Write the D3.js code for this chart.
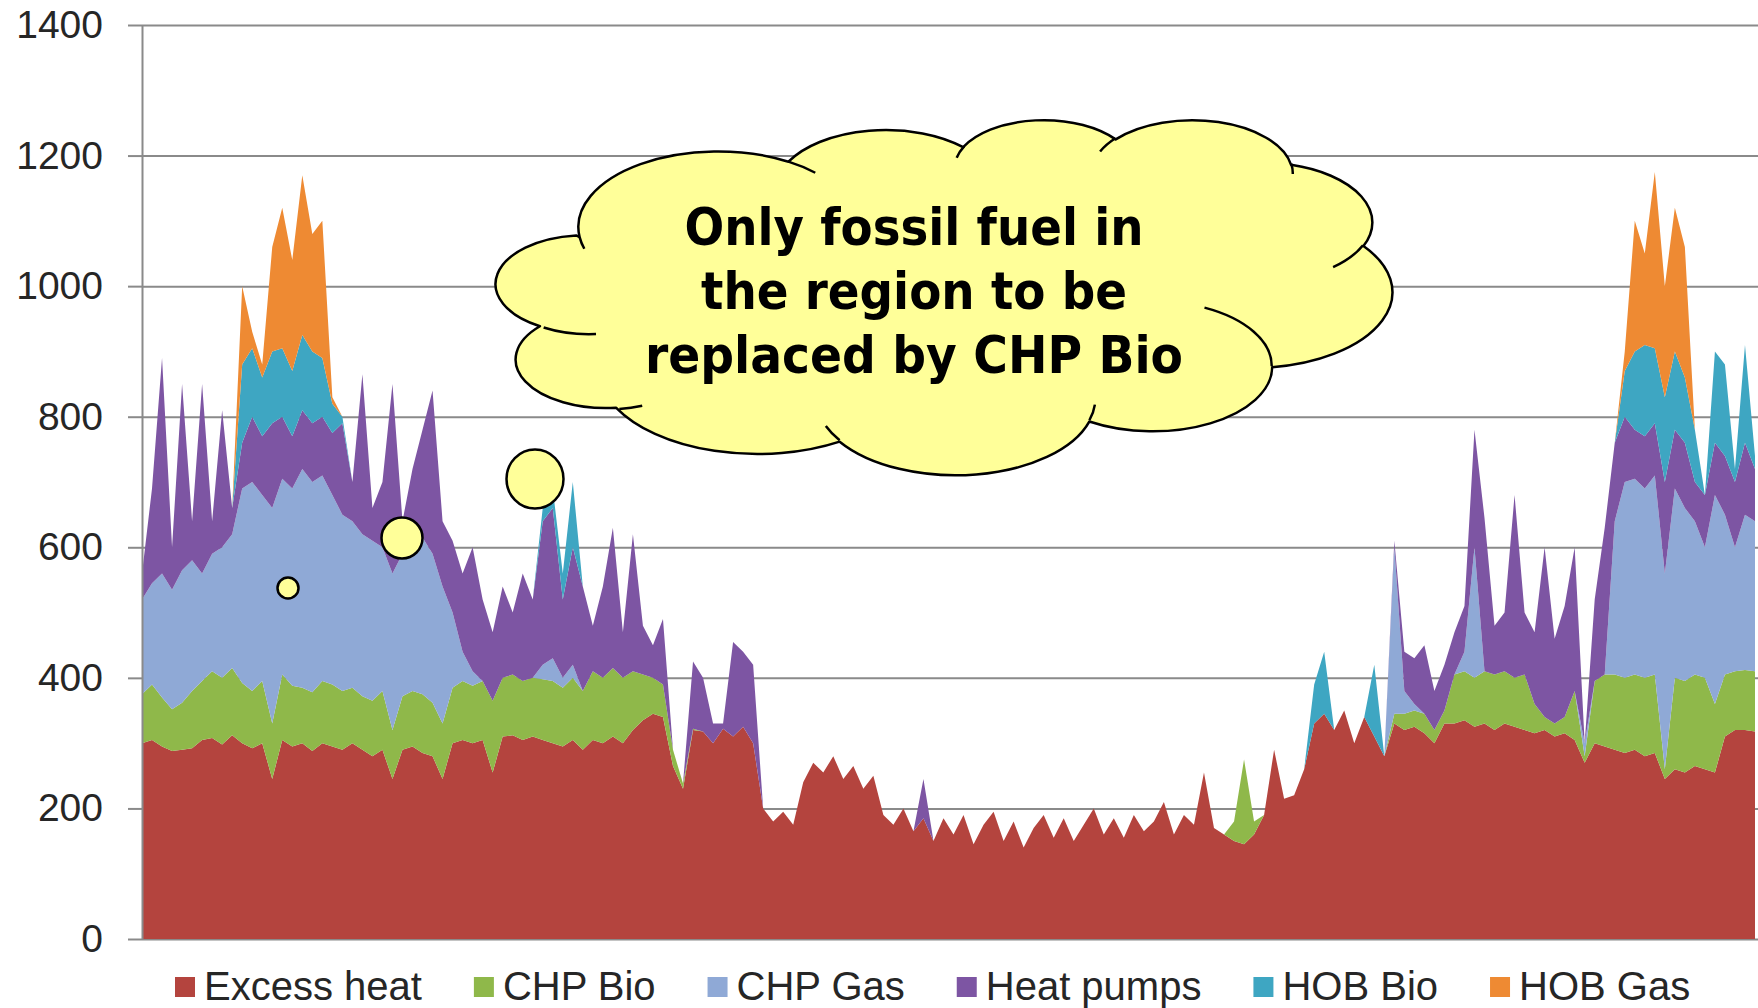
<!DOCTYPE html>
<html>
<head>
<meta charset="utf-8">
<script src="https://cdn.jsdelivr.net/npm/d3@7"></script>
<style>
  html, body { margin: 0; padding: 0; background: #fff; }
  svg { display: block; }
</style>
</head>
<body>
<div id="chart"></div>
<script>
// series, bottom to top
const seriesNames = ["Excess heat", "CHP Bio", "CHP Gas", "Heat pumps", "HOB Bio", "HOB Gas"];
const seriesColors = ["#b4443e", "#8fb84a", "#8fa9d6", "#7d55a3", "#3ea6c2", "#ee8a33"];
const yTicks = [0, 200, 400, 600, 800, 1000, 1200, 1400];

// heat production over the year, one sample every ~54 hours
const excessHeat = [
  300, 305, 295, 288, 290, 292, 305, 308, 298, 312,
  300, 292, 300, 245, 305, 295, 300, 288, 300, 295,
  290, 300, 290, 280, 290, 245, 290, 295, 285, 280,
  245, 300, 305, 300, 305, 255, 310, 312, 305, 310,
  305, 300, 295, 305, 290, 305, 300, 310, 300, 320,
  335, 345, 340, 265, 230, 320, 318, 300, 322, 310,
  325, 300, 200, 180, 195, 175, 240, 270, 255, 280,
  245, 265, 230, 250, 190, 175, 200, 165, 185, 150,
  185, 160, 190, 145, 175, 195, 150, 180, 140, 170,
  190, 155, 185, 150, 175, 200, 160, 185, 155, 190,
  165, 180, 210, 160, 190, 175, 255, 170, 160, 150,
  145, 160, 190, 290, 215, 220, 260, 330, 345, 320,
  350, 300, 340, 310, 280, 330, 320, 325, 315, 300,
  330, 330, 335, 325, 330, 320, 330, 325, 320, 315,
  320, 310, 315, 305, 270, 300, 295, 290, 285, 290,
  280, 285, 245, 260, 255, 265, 260, 255, 310, 320,
  320, 318
];
const chpBio = [
  75, 85, 75, 64, 72, 88, 90, 102, 102, 103,
  92, 88, 95, 85, 100, 93, 85, 90, 95, 95,
  90, 85, 82, 85, 90, 75, 82, 85, 90, 82,
  85, 85, 90, 88, 90, 110, 90, 93, 90, 90,
  93, 95, 90, 95, 90, 105, 100, 105, 100, 90,
  70, 55, 50, 25, 8, 2, 0, 0, 0, 0,
  0, 0, 0, 0, 0, 0, 0, 0, 0, 0,
  0, 0, 0, 0, 0, 0, 0, 0, 0, 0,
  0, 0, 0, 0, 0, 0, 0, 0, 0, 0,
  0, 0, 0, 0, 0, 0, 0, 0, 0, 0,
  0, 0, 0, 0, 0, 0, 0, 0, 0, 30,
  130, 20, 0, 0, 0, 0, 0, 0, 0, 0,
  0, 0, 0, 0, 0, 15, 25, 25, 30, 20,
  20, 75, 75, 75, 80, 85, 80, 75, 85, 45,
  20, 20, 25, 75, 10, 95, 110, 115, 115, 115,
  120, 120, 15, 140, 140, 140, 140, 105, 95, 90,
  92, 92
];
const chpGas = [
  145, 155, 190, 183, 203, 200, 165, 180, 200, 205,
  298, 320, 285, 330, 300, 302, 335, 322, 315, 290,
  270, 255, 248, 245, 220, 240, 218, 220, 240, 228,
  210, 115, 45, 22, 0, 0, 0, 0, 0, 0,
  22, 35, 15, 20, 0, 0, 0, 0, 0, 0,
  0, 0, 0, 0, 0, 0, 0, 0, 0, 0,
  0, 0, 0, 0, 0, 0, 0, 0, 0, 0,
  0, 0, 0, 0, 0, 0, 0, 0, 0, 0,
  0, 0, 0, 0, 0, 0, 0, 0, 0, 0,
  0, 0, 0, 0, 0, 0, 0, 0, 0, 0,
  0, 0, 0, 0, 0, 0, 0, 0, 0, 0,
  0, 0, 0, 0, 0, 0, 0, 0, 0, 0,
  0, 0, 0, 0, 0, 255, 35, 10, 0, 0,
  0, 0, 30, 200, 0, 0, 0, 0, 0, 0,
  0, 0, 0, 0, 20, 0, 0, 235, 300, 300,
  290, 305, 300, 290, 265, 235, 200, 320, 245, 190,
  238, 230
];
const heatPumps = [
  40, 145, 330, 65, 285, 60, 290, 50, 210, 40,
  70, 100, 90, 130, 95, 80, 90, 90, 90, 95,
  140, 60, 245, 50, 100, 290, 50, 120, 165, 250,
  100, 110, 120, 190, 125, 105, 140, 95, 165, 120,
  220, 230, 120, 180, 160, 70, 140, 215, 70, 210,
  75, 50, 100, 0, 0, 103, 82, 30, 8, 145,
  115, 120, 0, 0, 0, 0, 0, 0, 0, 0,
  0, 0, 0, 0, 0, 0, 0, 0, 60, 0,
  0, 0, 0, 0, 0, 0, 0, 0, 0, 0,
  0, 0, 0, 0, 0, 0, 0, 0, 0, 0,
  0, 0, 0, 0, 0, 0, 0, 0, 0, 0,
  0, 0, 0, 0, 0, 0, 0, 0, 0, 0,
  0, 0, 0, 0, 0, 10, 60, 70, 105, 60,
  70, 65, 70, 180, 235, 75, 90, 280, 95, 110,
  260, 130, 170, 220, 0, 125, 225, 120, 100, 75,
  80, 80, 140, 90, 100, 60, 80, 80, 90, 100,
  110, 80
];
const hobBio = [
  0, 0, 0, 0, 0, 0, 0, 0, 0, 0,
  120, 105, 90, 110, 105, 100, 115, 110, 90, 45,
  10, 0, 0, 0, 0, 0, 0, 0, 0, 0,
  0, 0, 0, 0, 0, 0, 0, 0, 0, 0,
  20, 30, 40, 100, 0, 0, 0, 0, 0, 0,
  0, 0, 0, 0, 0, 0, 0, 0, 0, 0,
  0, 0, 0, 0, 0, 0, 0, 0, 0, 0,
  0, 0, 0, 0, 0, 0, 0, 0, 0, 0,
  0, 0, 0, 0, 0, 0, 0, 0, 0, 0,
  0, 0, 0, 0, 0, 0, 0, 0, 0, 0,
  0, 0, 0, 0, 0, 0, 0, 0, 0, 0,
  0, 0, 0, 0, 0, 0, 0, 60, 95, 0,
  0, 0, 0, 110, 0, 0, 0, 0, 0, 0,
  0, 0, 0, 0, 0, 0, 0, 0, 0, 0,
  0, 0, 0, 0, 0, 0, 0, 0, 70, 120,
  140, 115, 130, 120, 100, 80, 0, 140, 140, 20,
  150, 20
];
const hobGas = [
  0, 0, 0, 0, 0, 0, 0, 0, 0, 0,
  120, 25, 20, 160, 215, 170, 245, 180, 210, 10,
  0, 0, 0, 0, 0, 0, 0, 0, 0, 0,
  0, 0, 0, 0, 0, 0, 0, 0, 0, 0,
  0, 0, 0, 0, 0, 0, 0, 0, 0, 0,
  0, 0, 0, 0, 0, 0, 0, 0, 0, 0,
  0, 0, 0, 0, 0, 0, 0, 0, 0, 0,
  0, 0, 0, 0, 0, 0, 0, 0, 0, 0,
  0, 0, 0, 0, 0, 0, 0, 0, 0, 0,
  0, 0, 0, 0, 0, 0, 0, 0, 0, 0,
  0, 0, 0, 0, 0, 0, 0, 0, 0, 0,
  0, 0, 0, 0, 0, 0, 0, 0, 0, 0,
  0, 0, 0, 0, 0, 0, 0, 0, 0, 0,
  0, 0, 0, 0, 0, 0, 0, 0, 0, 0,
  0, 0, 0, 0, 0, 0, 0, 0, 30, 200,
  140, 270, 170, 220, 200, 0, 0, 0, 0, 0,
  0, 0
];

const calloutLines = ["Only fossil fuel in", "the region to be", "replaced by CHP Bio"];

const W = 1758, H = 1008;
const plot = { left: 142, right: 1755, top: 25, bottom: 939 };

const svg = d3.select('#chart').append('svg')
    .attr('width', W)
    .attr('height', H)
    .attr('viewBox', `0 0 ${W} ${H}`);

const seriesValues = [excessHeat, chpBio, chpGas, heatPumps, hobBio, hobGas];
const rows = excessHeat.map((_, i) => {
    const r = {};
    seriesNames.forEach((name, k) => { r[name] = seriesValues[k][i]; });
    return r;
});

const x = d3.scaleLinear().domain([0, rows.length - 1]).range([plot.left, plot.right]);
const y = d3.scaleLinear().domain([0, 1400]).range([plot.bottom, plot.top]);
const color = d3.scaleOrdinal().domain(seriesNames).range(seriesColors);

// gridlines behind the series
svg.append('g')
    .attr('transform', `translate(${plot.left},0)`)
    .call(d3.axisLeft(y).tickValues(yTicks).tickSize(-(W - plot.left)).tickFormat(''))
    .call(g => g.select('.domain').remove())
    .call(g => g.selectAll('line').attr('stroke', '#8a8a8a').attr('stroke-width', 2));

const stacked = d3.stack().keys(seriesNames)(rows);

const area = d3.area()
    .x((d, i) => x(i))
    .y0(d => y(d[0]))
    .y1(d => y(d[1]));

svg.append('g')
    .selectAll('path')
    .data(stacked)
    .join('path')
    .attr('fill', d => color(d.key))
    .attr('d', area);

// y axis with labels
const yAxis = svg.append('g')
    .attr('transform', `translate(${plot.left},0)`)
    .call(d3.axisLeft(y).tickValues(yTicks).tickFormat(d3.format('d'))
        .tickSize(14).tickSizeOuter(0).tickPadding(25));
yAxis.select('.domain').attr('stroke', '#8a8a8a').attr('stroke-width', 2);
yAxis.selectAll('line').attr('stroke', '#8a8a8a').attr('stroke-width', 2);
yAxis.selectAll('text')
    .attr('fill', '#262626')
    .style('font-family', '"Liberation Sans", Arial, sans-serif')
    .style('font-size', '39px');

// legend along the bottom
const legend = svg.append('g').attr('transform', 'translate(0,1000)');
let lx = 175;
seriesNames.forEach(name => {
    const item = legend.append('g');
    item.append('rect')
        .attr('x', lx).attr('y', -23)
        .attr('width', 20).attr('height', 20)
        .attr('fill', color(name));
    const t = item.append('text')
        .attr('x', lx + 29).attr('y', 0)
        .attr('fill', '#262626')
        .style('font-family', '"Liberation Sans", Arial, sans-serif')
        .style('font-size', '40px')
        .text(name);
    lx += 29 + t.node().getComputedTextLength() + 52;
});

// cloud callout (PowerPoint cloud geometry, 43200 units square)
const cloudBox = { x: 499, y: 119, w: 893, h: 355 };
const cloudArcs = [
    [6753, 9190, -11429249, 7426832],
    [5333, 7267, -8646143, 5396714],
    [4365, 5945, -8748475, 5983381],
    [4857, 6595, -7859164, 7034504],
    [5333, 7273, -4722533, 6541615],
    [6775, 9220, -2776035, 7816140],
    [5785, 7867, 37501, 6842000],
    [6752, 9215, 1347096, 6910353],
    [7720, 10543, 3974558, 4682618],
    [4360, 5918, -16496525, 8804134],
    [4345, 5945, -14809710, 9151131]
];
const cloudHooks = [
    [4693, 26177, 4345, 5945, 5204520, 1585770],
    [6928, 34899, 4360, 5918, 4416628, 686848],
    [16478, 39090, 6752, 9215, 8257449, 844866],
    [28827, 34751, 6752, 9215, 387196, 959901],
    [34129, 22954, 5785, 7867, -4217541, 4255042],
    [41798, 15354, 5333, 7273, 1819082, 1665090],
    [38324, 5426, 4857, 6595, -824660, 891534],
    [29078, 3952, 4857, 6595, -8950887, 1091722],
    [22141, 4720, 4365, 5945, -9809656, 1061181],
    [14000, 5192, 6753, 9190, -4002417, 739161],
    [4127, 15789, 6753, 9190, 9459261, 711490]
];

function cloudPen() {
    const sx = cloudBox.w / 43200, sy = cloudBox.h / 43200;
    const px = v => cloudBox.x + v * sx, py = v => cloudBox.y + v * sy;
    let d = '', cx = 0, cy = 0;
    return {
        moveTo(a, b) { cx = a; cy = b; d += `M${px(a)},${py(b)}`; },
        arcTo(wR, hR, st, sw) {
            const a1 = st / 60000 * Math.PI / 180;
            const a2 = (st + sw) / 60000 * Math.PI / 180;
            const t1 = Math.atan2(wR * Math.sin(a1), hR * Math.cos(a1));
            const t2 = Math.atan2(wR * Math.sin(a2), hR * Math.cos(a2));
            const ox = cx - wR * Math.cos(t1), oy = cy - hR * Math.sin(t1);
            cx = ox + wR * Math.cos(t2); cy = oy + hR * Math.sin(t2);
            const large = Math.abs(sw / 60000) > 180 ? 1 : 0;
            d += `A${wR * sx},${hR * sy} 0 ${large} ${sw > 0 ? 1 : 0} ${px(cx)},${py(cy)}`;
        },
        close() { d += 'Z'; },
        path() { return d; }
    };
}

const callout = svg.append('g');

// thought bubbles
const bubbles = [
    { cx: 288, cy: 588, rx: 10.5, ry: 10.5 },
    { cx: 402, cy: 538, rx: 20.5, ry: 20.5 },
    { cx: 535, cy: 479, rx: 28.5, ry: 29.5 }
];
callout.selectAll('ellipse')
    .data(bubbles)
    .join('ellipse')
    .attr('cx', d => d.cx).attr('cy', d => d.cy)
    .attr('rx', d => d.rx).attr('ry', d => d.ry)
    .attr('fill', '#ffff99')
    .attr('stroke', '#000')
    .attr('stroke-width', 2.5);

const outline = cloudPen();
outline.moveTo(3900, 14370);
cloudArcs.forEach(a => outline.arcTo(...a));
outline.close();
callout.append('path')
    .attr('d', outline.path())
    .attr('fill', '#ffff99')
    .attr('stroke', '#000')
    .attr('stroke-width', 2.5)
    .attr('stroke-linejoin', 'round');

const hooks = cloudPen();
cloudHooks.forEach(h => { hooks.moveTo(h[0], h[1]); hooks.arcTo(h[2], h[3], h[4], h[5]); });
callout.append('path')
    .attr('d', hooks.path())
    .attr('fill', 'none')
    .attr('stroke', '#000')
    .attr('stroke-width', 2.5);

const lineWidths = [459, 426, 538];
callout.selectAll('text')
    .data(calloutLines)
    .join('text')
    .attr('x', 914)
    .attr('y', (d, i) => 245 + i * 64)
    .attr('text-anchor', 'middle')
    .attr('textLength', (d, i) => lineWidths[i])
    .attr('lengthAdjust', 'spacingAndGlyphs')
    .style('font-family', '"DejaVu Sans Condensed", "DejaVu Sans", sans-serif')
    .style('font-weight', 'bold')
    .style('font-size', '52px')
    .attr('fill', '#000')
    .text(d => d);
</script>
</body>
</html>
